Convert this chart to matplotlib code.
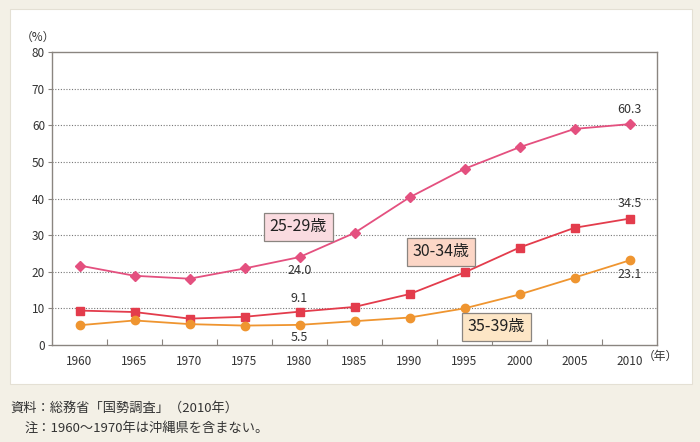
import matplotlib.pyplot as plt
from matplotlib.patches import Rectangle

plt.rcParams['font.family'] = ['Noto Sans CJK JP', 'DejaVu Sans']

years = [1960, 1965, 1970, 1975, 1980, 1985, 1990, 1995, 2000, 2005, 2010]
age_25_29 = [21.7, 18.9, 18.1, 20.9, 24.0, 30.6, 40.3, 48.1, 54.0, 59.0, 60.3]
age_30_34 = [9.4, 9.0, 7.2, 7.7, 9.1, 10.4, 13.9, 19.8, 26.6, 32.0, 34.5]
age_35_39 = [5.4, 6.7, 5.7, 5.3, 5.5, 6.5, 7.5, 10.0, 13.8, 18.4, 23.1]
yticks = [0, 10, 20, 30, 40, 50, 60, 70, 80]

bg = '#f3f0e6'
fig = plt.figure(figsize=(7, 4.42), dpi=100)
fig.patch.set_facecolor(bg)

# white panel behind the chart
panel = Rectangle((10/700, 1-384/442), 682/700, 375/442,
                  transform=fig.transFigure, facecolor='white',
                  edgecolor='#e4e0d4', linewidth=0.8, zorder=-10)
fig.patches.append(panel)

ax = fig.add_axes([52/700, 1-345/442, 605/700, 293/442], zorder=2)
ax.set_facecolor('white')
ax.set_xlim(1957.5, 2012.5)
ax.set_ylim(0, 80)

for v in yticks[1:-1]:
    ax.axhline(v, color='#777777', linestyle=(0, (1, 1.5)), linewidth=0.8, zorder=1)

ax.plot(years, age_25_29, color='#e4507f', marker='D', markersize=5, linewidth=1.3, zorder=3)
ax.plot(years, age_30_34, color='#e33c4c', marker='s', markersize=5.5, linewidth=1.3, zorder=3)
ax.plot(years, age_35_39, color='#ef9530', marker='o', markersize=6, linewidth=1.3, zorder=3)

for s in ax.spines.values():
    s.set_color('#8a8580')
    s.set_linewidth(1.0)

ax.set_yticks(yticks)
ax.set_yticklabels([str(v) for v in yticks], fontsize=8.5, color='#333333')
ax.tick_params(axis='y', length=3, width=0.8, color='#8a8580', pad=2)
ax.set_xticks(years)
ax.set_xticklabels([str(y) for y in years], fontsize=8.5, color='#333333')
ax.tick_params(axis='x', length=0, pad=7)
ax.set_xticks([y + 2.5 for y in years[:-1]], minor=True)
ax.tick_params(axis='x', which='minor', direction='in', length=4, width=0.8, color='#8a8580')

# value labels
lab = dict(fontsize=9, color='#333333', ha='center')
ax.text(2010, age_25_29[-1] + 2.3, '60.3', va='bottom', **lab)
ax.text(2010, age_30_34[-1] + 2.3, '34.5', va='bottom', **lab)
ax.text(2010, age_35_39[-1] - 2.0, '23.1', va='top', **lab)
ax.text(1980, age_25_29[4] - 1.8, '24.0', va='top', **lab)
ax.text(1980, age_30_34[4] + 1.8, '9.1', va='bottom', **lab)
ax.text(1980, age_35_39[4] - 1.8, '5.5', va='top', **lab)

# series name boxes
def name_box(x, y, text, fc):
    ax.text(x, y, text, fontsize=11.5, color='#222222', ha='center', va='center', zorder=5,
            bbox=dict(boxstyle='square,pad=0.35', facecolor=fc, edgecolor='#8a8580', linewidth=0.9))

name_box(1979.9, 32.3, '25-29歳', '#fadbe0')
name_box(1992.9, 25.4, '30-34歳', '#fcd6c6')
name_box(1997.9, 5.0, '35-39歳', '#fde6c6')

fig.text(38/700, 1-37/442, '（%）', fontsize=8.5, color='#333333', ha='center', va='center')
fig.text(660/700, 1-356/442, '（年）', fontsize=8.5, color='#333333', ha='center', va='center')

fig.text(10/700, 1-408/442, '資料：総務省「国勢調査」（2010年）', fontsize=9.5, color='#333333', va='center')
fig.text(25/700, 1-428/442, '注：1960〜1970年は沖縄県を含まない。', fontsize=9.5, color='#333333', va='center')

fig.savefig('out.png', dpi=100, facecolor=bg)
